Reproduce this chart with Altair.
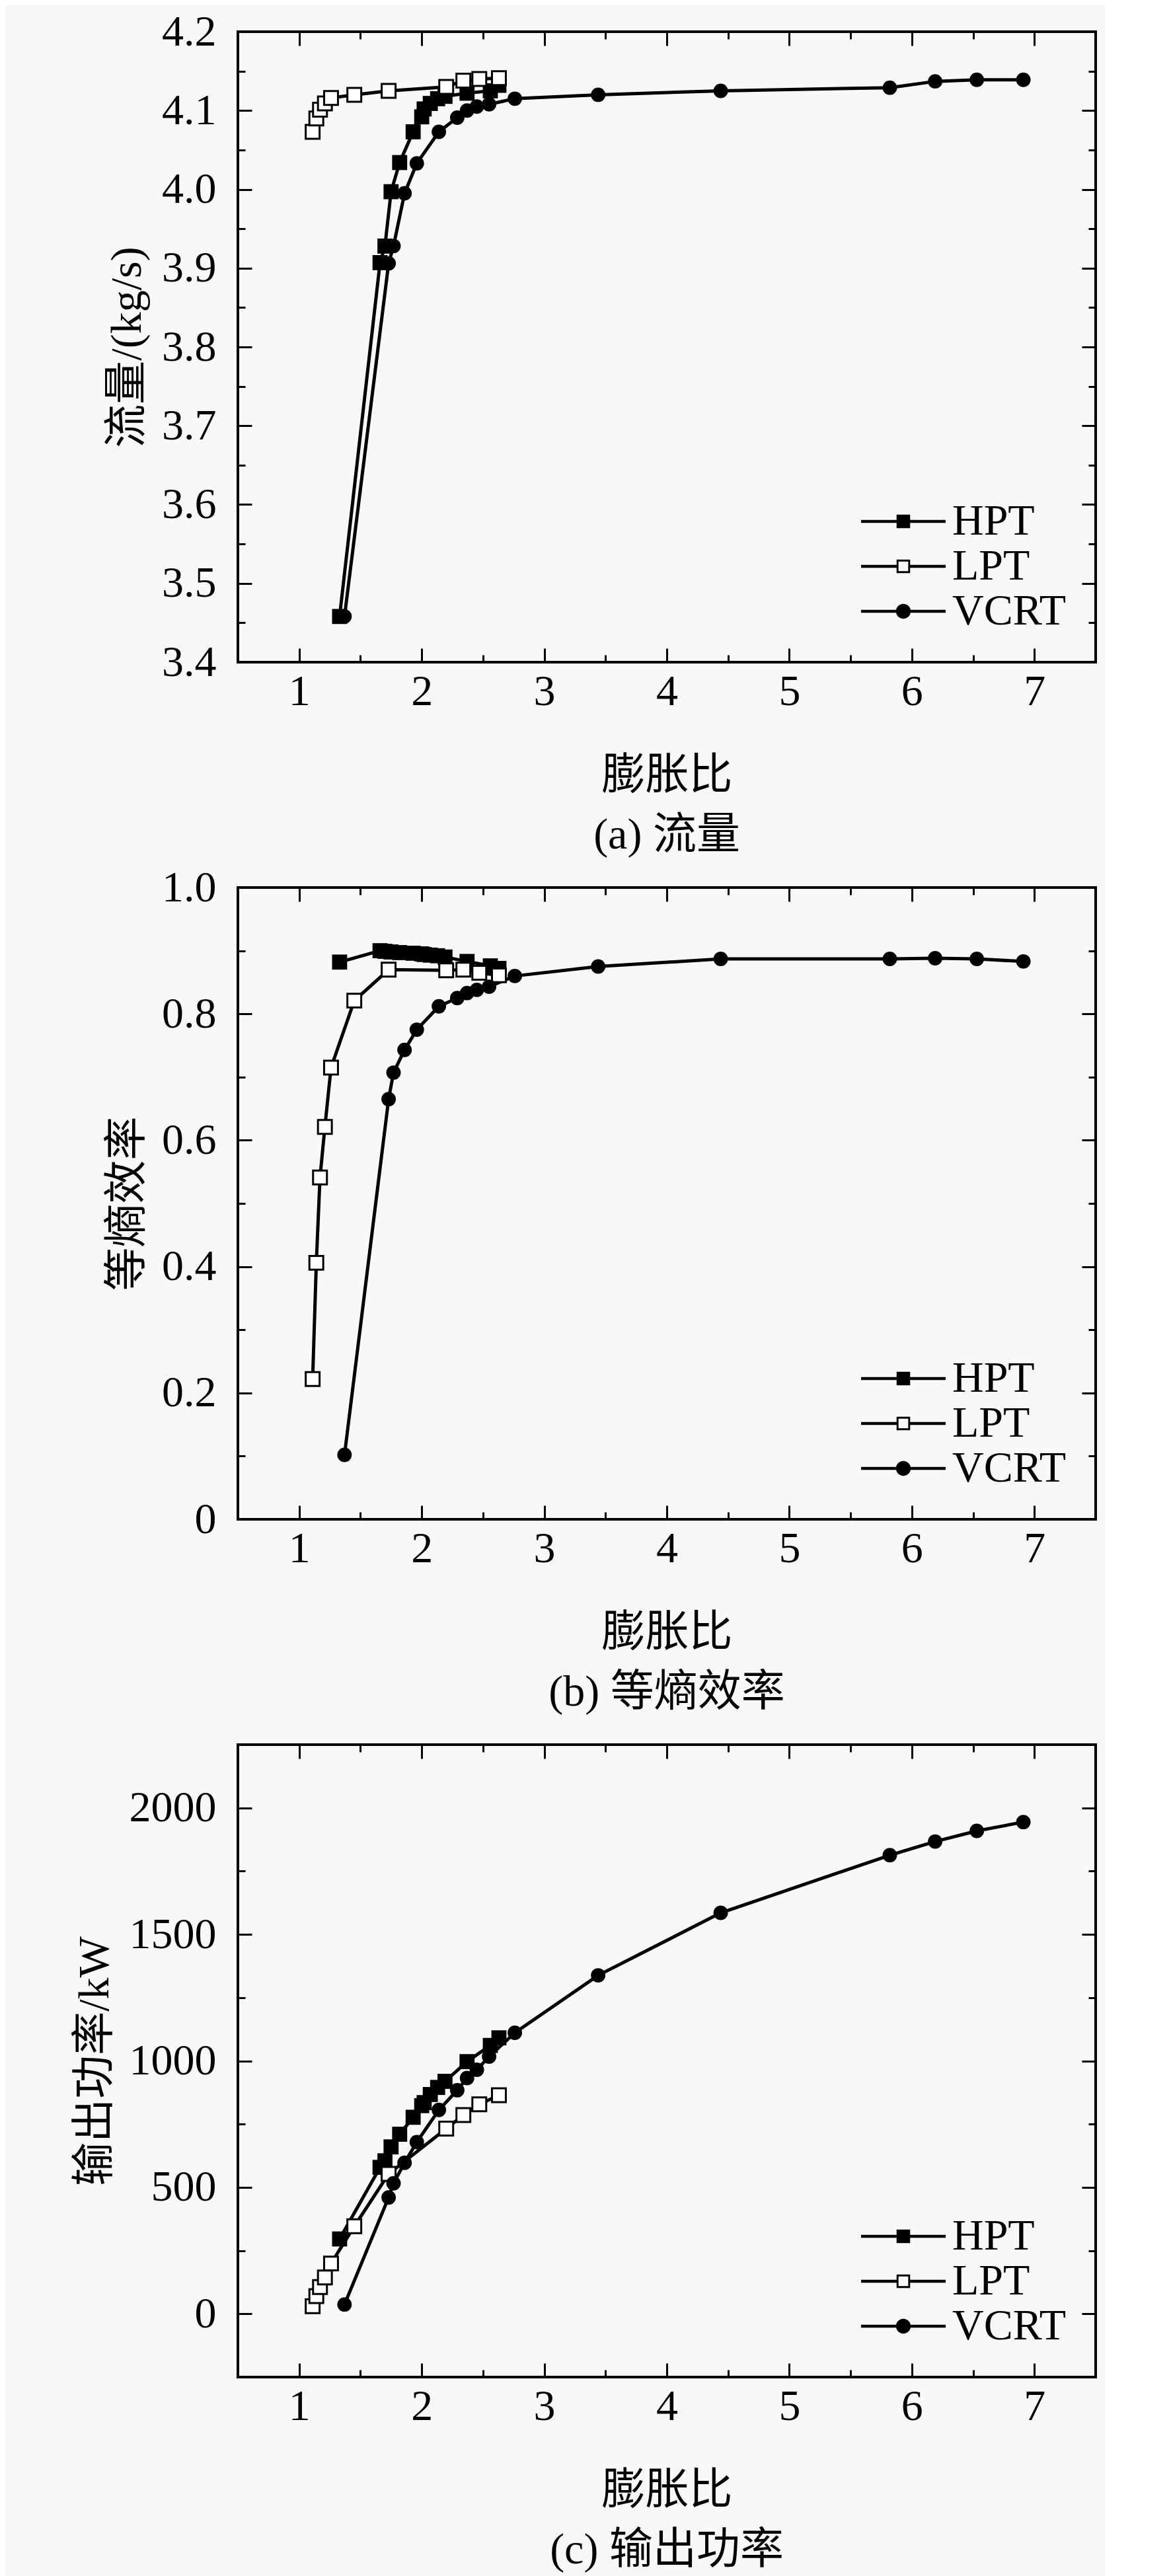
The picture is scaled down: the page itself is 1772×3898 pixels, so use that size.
import altair as alt
import pandas as pd

# ---------------- data ----------------
series_names = ["HPT", "LPT", "VCRT"]

x_hpt = [1.33, 1.66, 1.70, 1.75, 1.82, 1.93, 2.00, 2.02, 2.07, 2.13, 2.19, 2.37, 2.56, 2.63]
flow_hpt = [3.458, 3.907, 3.928, 3.997, 4.034, 4.073, 4.092, 4.102, 4.109, 4.115, 4.118, 4.122, 4.125, 4.132]
eff_hpt = [0.882, 0.900, 0.899, 0.898, 0.897, 0.896, 0.895, 0.894, 0.893, 0.892, 0.890, 0.883, 0.876, 0.872]
power_hpt = [296, 579, 605, 660, 710, 777, 823, 835, 867, 895, 919, 997, 1061, 1091]

x_lpt = [1.11, 1.14, 1.17, 1.21, 1.26, 1.45, 1.73, 2.20, 2.34, 2.47, 2.63]
flow_lpt = [4.073, 4.090, 4.101, 4.109, 4.116, 4.120, 4.125, 4.130, 4.138, 4.140, 4.141]
eff_lpt = [0.222, 0.406, 0.541, 0.621, 0.715, 0.821, 0.870, 0.869, 0.870, 0.865, 0.861]
power_lpt = [30, 70, 106, 144, 199, 346, 553, 732, 786, 828, 864]

x_vcrt = [1.37, 1.73, 1.77, 1.86, 1.96, 2.14, 2.29, 2.37, 2.45, 2.55, 2.76, 3.44, 4.44, 5.82, 6.19, 6.53, 6.91]
flow_vcrt = [3.458, 3.906, 3.928, 3.995, 4.033, 4.073, 4.091, 4.100, 4.105, 4.108, 4.115, 4.120, 4.125, 4.129, 4.137, 4.139, 4.139]
eff_vcrt = [0.102, 0.665, 0.707, 0.743, 0.775, 0.812, 0.825, 0.833, 0.838, 0.843, 0.860, 0.875, 0.887, 0.887, 0.888, 0.887, 0.883]
power_vcrt = [37, 460, 516, 597, 679, 806, 884, 932, 965, 1017, 1111, 1338, 1585, 1813, 1867, 1909, 1944]

x_ticks = [1, 2, 3, 4, 5, 6, 7]
x_minor = [1.5, 2.5, 3.5, 4.5, 5.5, 6.5]
flow_ticks = [3.4, 3.5, 3.6, 3.7, 3.8, 3.9, 4.0, 4.1, 4.2]
flow_minor = [3.45, 3.55, 3.65, 3.75, 3.85, 3.95, 4.05, 4.15]
eff_ticks = [0, 0.2, 0.4, 0.6, 0.8, 1.0]
eff_minor = [0.1, 0.3, 0.5, 0.7, 0.9]
power_ticks = [0, 500, 1000, 1500, 2000]
power_minor = [250, 750, 1250, 1750]

x_title = "膨胀比"
captions = ["(a) 流量", "(b) 等熵效率", "(c) 输出功率"]
y_titles = ["流量/(kg/s)", "等熵效率", "输出功率/kW"]

# ---------------- table ----------------
rows = []
for name, xs, fl, ef, pw in [
    ("HPT", x_hpt, flow_hpt, eff_hpt, power_hpt),
    ("LPT", x_lpt, flow_lpt, eff_lpt, power_lpt),
    ("VCRT", x_vcrt, flow_vcrt, eff_vcrt, power_vcrt),
]:
    for i in range(len(xs)):
        rows.append({"series": name, "x": xs[i], "flow": fl[i], "eff": ef[i], "power": pw[i]})
df = pd.DataFrame(rows)

FONT = "Liberation Serif, Noto Sans CJK SC"
FS = 66
MAJ = 21
MIN = 11
TW = 3

# legend glyphs (line + marker), all drawn as filled outlines
line_full = "M-1,-0.036H1V0.036H-1Z"
line_split = "M-1,-0.036H-0.16V0.036H-1ZM0.16,-0.036H1V0.036H0.16Z"
sq_full = "M-0.16,-0.16H0.16V0.16H-0.16Z"
sq_hole = "M-0.115,-0.115V0.115H0.115V-0.115Z"
circ = "M0.175,0A0.175,0.175,0,1,1,-0.175,0A0.175,0.175,0,1,1,0.175,0Z"
legend_paths = [line_full + sq_full, line_split + sq_full + sq_hole, line_full + circ]

XS = alt.Scale(domain=[0.5, 7.5], nice=False, zero=False)


def tick_axis(orient, values, size):
    return alt.Axis(orient=orient, values=values, labels=False, domain=False, ticks=True,
                    tickSize=size, offset=-size, tickWidth=TW, tickColor="black",
                    title=None, grid=False)


def panel(ycol, ydom, yt, ym, ytitle, yfmt, yexpr, caption, h):
    YS = alt.Scale(domain=ydom, nice=False, zero=False)
    base = alt.Chart(df)

    yaxis_kw = dict(orient="left", values=yt, labelPadding=33, ticks=False, tickSize=0,
                    domain=False, title=ytitle, titlePadding=18, labelFlush=False,
                    labelOverlap=False, grid=False, labelFontSize=FS, titleFontSize=FS)
    if yexpr:
        yaxis_kw["labelExpr"] = yexpr
    else:
        yaxis_kw["format"] = yfmt

    main_axes = base.mark_point(opacity=0).encode(
        x=alt.X("x:Q", scale=XS, axis=alt.Axis(
            orient="bottom", values=x_ticks, format="d", labelPadding=12, ticks=False,
            tickSize=0, domain=False, title=x_title, titlePadding=62, labelFlush=False,
            labelOverlap=False, grid=False, labelFontSize=FS, titleFontSize=FS)),
        y=alt.Y(f"{ycol}:Q", scale=YS, axis=alt.Axis(**yaxis_kw)),
    )
    t1 = base.mark_point(opacity=0).encode(
        x=alt.X("x:Q", scale=XS, axis=tick_axis("bottom", x_ticks, MAJ)),
        y=alt.Y(f"{ycol}:Q", scale=YS, axis=tick_axis("left", yt, MAJ)),
    )
    t2 = base.mark_point(opacity=0).encode(
        x=alt.X("x:Q", scale=XS, axis=tick_axis("bottom", x_minor, MIN)),
        y=alt.Y(f"{ycol}:Q", scale=YS, axis=tick_axis("left", ym, MIN)),
    )
    t3 = base.mark_point(opacity=0).encode(
        x=alt.X("x:Q", scale=XS, axis=tick_axis("top", x_ticks, MAJ)),
        y=alt.Y(f"{ycol}:Q", scale=YS, axis=tick_axis("right", yt, MAJ)),
    )
    t4 = base.mark_point(opacity=0).encode(
        x=alt.X("x:Q", scale=XS, axis=tick_axis("top", x_minor, MIN)),
        y=alt.Y(f"{ycol}:Q", scale=YS, axis=tick_axis("right", ym, MIN)),
    )
    enc = dict(x=alt.X("x:Q", scale=XS, axis=None), y=alt.Y(f"{ycol}:Q", scale=YS, axis=None))

    lines = base.mark_line(color="black", strokeWidth=5).encode(detail="series:N", **enc)
    p_h = base.transform_filter(alt.datum.series == "HPT").mark_point(
        shape="square", filled=True, color="black", size=520, opacity=1).encode(**enc)
    p_l = base.transform_filter(alt.datum.series == "LPT").mark_point(
        shape="square", filled=True, fill="white", stroke="black", strokeWidth=3,
        size=440, opacity=1).encode(**enc)
    p_v = base.transform_filter(alt.datum.series == "VCRT").mark_point(
        shape="circle", filled=True, color="black", size=480, opacity=1).encode(**enc)

    leg = base.mark_point(filled=True, color="black", opacity=0).encode(
        shape=alt.Shape("series:N", scale=alt.Scale(domain=series_names, range=legend_paths),
                        legend=alt.Legend(title=None, orient="bottom-right", offset=44,
                                          symbolSize=16384, symbolStrokeWidth=0,
                                          symbolFillColor="black", symbolOpacity=1,
                                          labelFontSize=FS, labelFont=FONT, labelColor="black",
                                          labelOffset=10, clipHeight=66, rowPadding=2,
                                          padding=0, labelLimit=0)),
        **enc,
    )

    ch = alt.layer(main_axes, t1, t2, t3, t4, lines, p_h, p_l, p_v, leg).resolve_axis(
        x="independent", y="independent"
    ).properties(
        width=1298, height=h,
        title=alt.TitleParams(text=caption, orient="bottom", anchor="middle", frame="group",
                              fontSize=FS, font=FONT, fontWeight="normal", color="black",
                              offset=26),
    )
    return ch


pa = panel("flow", [3.4, 4.2], flow_ticks, flow_minor, y_titles[0], ".1f", None, captions[0], 954)
pb = panel("eff", [0, 1.0], eff_ticks, eff_minor, y_titles[1], None,
           "datum.value == 0 ? '0' : format(datum.value, '.1f')", captions[1], 956)
pc = panel("power", [-250, 2250], power_ticks, power_minor, y_titles[2], "d", None, captions[2], 957)

chart = alt.vconcat(pa, pb, pc, spacing=341, bounds="flush").resolve_scale(
    shape="independent"
).resolve_legend(
    shape="independent"
).properties(
    padding={"left": 100, "top": 5, "right": 10, "bottom": 10},
    background="#f8f8f8",
).configure_axis(
    labelFont=FONT, titleFont=FONT, labelColor="black", titleColor="black",
    titleFontWeight="normal", grid=False,
).configure_view(stroke="black", strokeWidth=4)

chart.save("out.html", embed_options={"renderer": "svg", "actions": False})
